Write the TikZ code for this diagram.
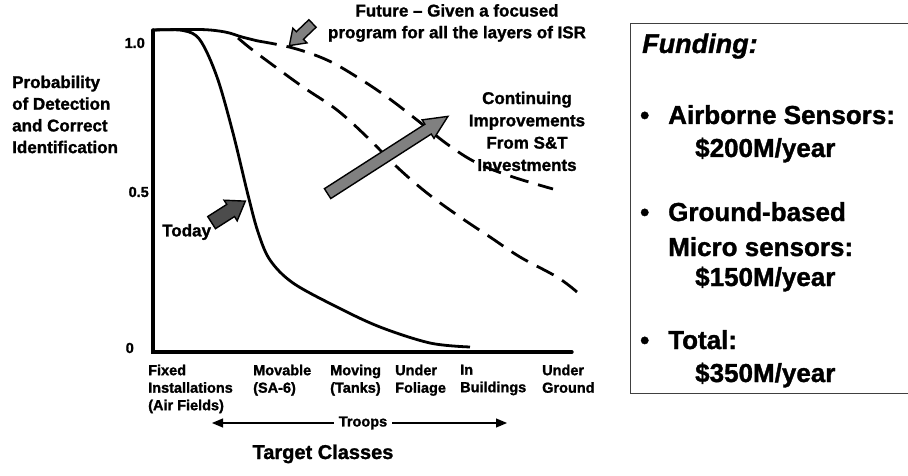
\documentclass[tikz,border=0pt]{standalone}
\usepackage{fontspec}
\setmainfont{Liberation Sans}[BoldFeatures={FakeBold=1.3},BoldItalicFeatures={FakeBold=1.3}]
\usetikzlibrary{arrows.meta,shapes.arrows}
\begin{document}
\begin{tikzpicture}[x=1pt,y=-1pt,
  small/.style={font=\bfseries\fontsize{14.5}{17.5}\selectfont, inner sep=0pt, align=left},
  mid/.style={font=\bfseries\fontsize{17}{21.7}\selectfont, inner sep=0pt},
  big/.style={font=\bfseries\fontsize{26}{33}\selectfont, inner sep=0pt},
  axis/.style={line width=3.4pt, line cap=round},
  curve/.style={line width=2.8pt, line cap=butt},
  dashcurve/.style={curve, dash pattern=on 19pt off 10pt},
  fatarrow/.style={single arrow, draw=black, line width=1.4pt, fill=black!50,
    inner xsep=0pt, inner ysep=5pt, single arrow head extend=5pt,
    single arrow tip angle=70, anchor=tail, minimum width=20pt}]
\useasboundingbox (0,0) rectangle (908,476);

% axes
\coordinate (origin) at (153,352);
\coordinate (ytop) at (153,30);
\coordinate (xend) at (572,352);
\draw[axis] (ytop) -- (origin) -- (xend);

% tick labels
\node[small, anchor=east] (t10) at (145,43) {1.0};
\node[small, anchor=east] (t05) at (149,192) {0.5};
\node[small, anchor=east] (t0) at (134,348) {0};

% y label
\node[mid, align=left, anchor=north west] (ylab) at (12,75.5)
  {Probability\\of Detection\\and Correct\\Identification};

% curves
\draw[curve] plot[smooth, tension=0.55] coordinates {(153,30) (183,30.5) (200,40) (217,77) (233,133) (248,195) (258,232) (270,260) (293,283) (337,307) (380,327) (430,343) (470,347)};
\draw[curve] plot[smooth, tension=0.6] coordinates {(153,30) (200,29.5) (225,32) (242,37) (258,41)};
\draw[dashcurve] plot[smooth, tension=0.6] coordinates {(258,41) (293,48) (327,60) (357,77) (387,97) (417,120) (447,144) (477,163) (513,177) (553,189)};
\draw[dashcurve] plot[smooth, tension=0.6] coordinates {(238,38) (250,48) (270,63) (303,87) (337,110) (367,137) (397,167) (427,193) (460,217) (490,237) (520,257) (557,277) (577,292)};

% fat arrows
\coordinate (todayTail) at (211,223);
\coordinate (futureTail) at (313,23);
\coordinate (contTail) at (327,194);
\node[fatarrow, rotate=32.5, minimum height=40pt, inner ysep=6.5pt, fill=black!70] (todayArrow) at (todayTail) {};
\node[fatarrow, rotate=223.7, minimum height=32pt, inner ysep=4.5pt, minimum width=18pt] (futureArrow) at (futureTail) {};
\node[fatarrow, rotate=32.7, minimum height=143pt, minimum width=22pt, single arrow tip angle=50] (contArrow) at (contTail) {};

% annotations
\node[mid, anchor=west] (today) at (162,232) {Today};
\node[mid, align=center, anchor=north] (future) at (457,4)
  {Future -- Given a focused\\program for all the layers of ISR};
\node[mid, align=center, anchor=north, font=\bfseries\fontsize{17}{22.3}\selectfont] (cont) at (527,91.5)
  {Continuing\\Improvements\\From S\&T\\Investments};

% x labels
\node[small, anchor=north west] (xl1) at (148,364.5) {Fixed\\Installations\\(Air Fields)};
\node[small, anchor=north west] (xl2) at (253,364.5) {Movable\\(SA-6)};
\node[small, anchor=north west] (xl3) at (330,364.5) {Moving\\(Tanks)};
\node[small, anchor=north west] (xl4) at (395,364.5) {Under\\Foliage};
\node[small, anchor=north west] (xl5) at (460,364.5) {In\\Buildings};
\node[small, anchor=north west] (xl6) at (542,364.5) {Under\\Ground};

% troops
\coordinate (trL) at (212,423);
\coordinate (trR) at (507,423);
\draw[line width=1.2pt, {Triangle[length=11pt,width=9pt]}-{Triangle[length=11pt,width=9pt]}] (trL) -- (trR);
\node[small, fill=white, inner xsep=5pt, inner ysep=2pt] (troops) at (363,423) {Troops};

\node[font=\bfseries\fontsize{20}{24}\selectfont, inner sep=0pt, anchor=base] (tc) at (323,459) {Target Classes};

% funding box
\draw[line width=0.9pt, black!75] (630,23) rectangle (914,393);
\node[font=\bfseries\itshape\fontsize{27}{33}\selectfont, inner sep=0pt, anchor=base west] (fund) at (642,53) {Funding:};
\node[big, anchor=base west] (b1) at (640,124) {•};
\node[big, anchor=base west] (f1) at (668,124) {Airborne Sensors:};
\node[big, anchor=base west] (f2) at (695,157) {\$200M/year};
\node[big, anchor=base west] (b2) at (640,221) {•};
\node[big, anchor=base west] (f3) at (668,221) {Ground-based};
\node[big, anchor=base west] (f4) at (668,256) {Micro sensors:};
\node[big, anchor=base west] (f5) at (695,286) {\$150M/year};
\node[big, anchor=base west] (b3) at (640,349) {•};
\node[big, anchor=base west] (f6) at (668,349) {Total:};
\node[big, anchor=base west] (f7) at (695,382) {\$350M/year};
\end{tikzpicture}
\end{document}
